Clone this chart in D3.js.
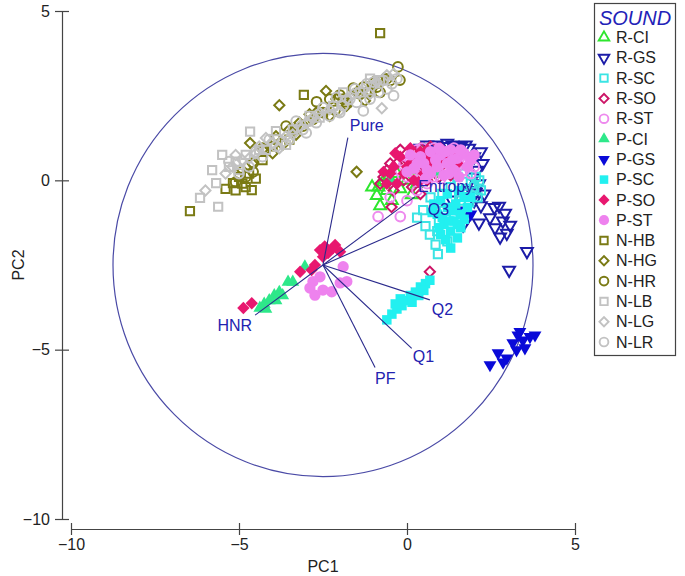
<!DOCTYPE html>
<html><head><meta charset="utf-8">
<script src="https://cdn.jsdelivr.net/npm/d3@7"></script>
<style>body{margin:0;background:#fff}svg{display:block;font-family:"Liberation Sans",Arial,sans-serif}</style>
</head><body><svg id="c" width="685" height="576"></svg>
<script>
// ---------- data ----------
const xTicks = [-10, -5, 0, 5];
const yTicks = [5, 0, -5, -10];
const xTitle = "PC1", yTitle = "PC2", legendTitle = "SOUND";
const seriesNames = ["R-CI","R-GS","R-SC","R-SO","R-ST","P-CI","P-GS","P-SC","P-SO","P-ST","N-HB","N-HG","N-HR","N-LB","N-LG","N-LR"];

const rCI = [[-1.04,-0.2],[-0.8,-0.75],[-0.9,-0.45],[-0.71,-0.05],[-0.55,0.1],[0.14,-0.43],[-0.3,0.2],[0.1,0.3],[0.6,0.5],[0.9,0.2],[-0.6,-0.3],[0.3,-0.1],[1.2,0.6],[-0.2,-0.25],
  [-0.45,-0.6],[-0.85,-0.2],[0.0,0.0],[0.5,0.9]];
const rGS = [[0.6,1.05],[0.85,1.05],[1.1,1.0],[1.35,1.05],[1.6,1.0],[1.85,0.95],[0.4,0.95],[2.0,0.7],[2.1,0.3],[2.15,-0.1],[1.9,-0.3],[2.0,-0.6],[1.7,-0.9],
  [2.74,-0.76],[2.14,-1.26],[2.47,-1.1],[2.62,-1.4],[2.77,-1.67],[2.97,-1.56],[3.07,-1.32],[2.92,-0.97],[3.57,-2.1],[3.04,-2.65],[2.85,-1.2],[2.6,-0.8],
  [1.67,-1.32],[1.33,-0.58],[1.8,-1.1],[2.2,0.85],[2.25,0.5],[2.3,-0.4],[2.2,-0.75],[1.95,0.1],[0.7,0.9],[1.2,1.1],[1.75,1.05],[2.05,-0.35],[1.5,0.95]];
const rSC = [[0.48,-0.88],[0.92,-2.18],[0.68,-1.6],[0.9,-1.5],[1.3,-0.2],[1.5,0.1],[1.8,-0.4],[2.0,-0.2],[1.6,-0.6],[2.1,-0.5],[1.1,-0.9],[0.3,-1.1],[1.2,-1.8],[0.95,-1.2],[1.7,0.2],[1.4,-1.0],[2.15,0.0],[0.7,-0.5],
  [1.9,-0.1],[2.05,0.1],[1.75,-0.25],[1.55,-0.45],[1.85,-0.65],[0.55,-1.35],[0.85,-1.9],[1.05,-0.4],[2.2,-0.3]];
const rSO = [[-0.46,-0.79],[0.68,-2.7],[-0.6,0.3],[-0.3,0.5],[0.0,0.6],[0.2,0.8],[-0.4,-0.3],[0.5,0.3],[0.8,0.7],[-0.7,0.1],[0.4,-0.4],[1.0,0.4],[-0.1,0.0],
  [-0.2,0.9],[0.4,0.95],[0.7,1.0],[1.2,0.8],[1.5,0.85],[0.3,0.35],[0.6,0.0],[-0.5,0.5],[-0.8,-0.1],[0.15,-0.2],[1.3,0.15],[1.7,0.6],[0.95,0.1]];
const rST = [[-0.86,-1.07],[-0.2,-1.07],[0.3,0.9],[0.6,0.8],[1.0,0.9],[1.3,0.7],[1.6,0.75],[0.9,0.5],[1.2,0.3],[0.5,0.4],[-0.2,0.3],[0.1,0.6],[1.5,0.4],[0.8,0.1],[-0.5,-0.5],[1.8,0.5],[0.0,-0.6],[0.4,0.1],
  [0.2,0.2],[0.5,0.75],[0.8,0.95],[1.1,0.65],[1.4,0.95],[1.7,0.3],[1.9,0.2],[0.0,0.1],[-0.4,0.05],[0.3,-0.3],[0.6,-0.1],[1.0,0.05],[1.3,0.5],[0.7,0.6],[-0.1,0.45],[1.6,0.55],[2.0,0.4],[0.45,0.95]];
const pCI = [[-4.38,-3.77],[-4.25,-3.65],[-4.1,-3.55],[-3.95,-3.4],[-3.8,-3.3],[-3.7,-3.4],[-3.54,-3.0],[-3.4,-3.0],[-3.04,-2.55],[-4.2,-3.8],[-3.9,-3.55],[0.88,0.25],[0.6,0.6],[-0.5,0.0]];
const pGS = [[3.3,-4.57],[3.81,-4.57],[3.45,-4.72],[3.15,-4.8],[3.51,-4.95],[2.71,-5.1],[2.97,-5.25],[2.86,-5.37],[2.47,-5.45],[3.26,-5.01],[3.66,-4.62],[3.36,-4.47],[1.5,-0.9],[1.9,-1.0]];
const pSC = [[-0.6,-4.12],[-0.45,-3.95],[-0.3,-3.8],[-0.15,-3.7],[0.0,-3.55],[0.1,-3.4],[0.25,-3.3],[0.4,-3.15],[0.55,-3.05],[0.68,-2.95],[-0.2,-3.5],[0.15,-3.6],[0.35,-3.4],[0.5,-3.25],[-0.35,-3.65],
  [1.0,-0.6],[1.2,-0.8],[1.4,-1.2],[1.6,-1.0],[1.3,-1.5],[1.1,-1.3],[1.5,-1.7],[1.7,-0.5],[0.9,-1.0],[1.2,-0.4],[1.45,-0.7],[1.0,-1.6],[1.3,-2.0],[1.8,-0.8],[0.8,-0.7],[1.6,-1.4],
  [1.05,-1.1],[1.25,-1.2],[1.5,-1.3],[1.35,-0.9],[0.95,-1.4],[1.15,-1.75],[1.7,-1.15],[1.9,-0.5],[1.55,-0.3],[0.75,-0.95]];
const pSO = [[-2.59,-2.06],[-2.14,-1.91],[-2.35,-2.15],[-1.99,-2.11],[-2.5,-2.26],[-3.18,-2.7],[-2.84,-2.65],[-2.74,-2.5],[-4.87,-3.77],[-4.62,-3.63],[-2.2,-2.0],[-2.45,-1.95],
  [-0.5,0.2],[-0.3,-0.1],[0.0,0.4],[0.3,0.6],[0.6,0.9],[0.2,0.0],[-0.6,-0.1],[0.5,0.2],[0.9,0.8],[-0.2,0.7],[0.1,0.95],[1.1,0.6],[0.7,0.45],
  [-0.4,0.4],[-0.1,0.2],[0.15,0.55],[0.4,0.85],[0.8,0.6],[1.0,0.95],[1.3,0.75],[0.35,-0.05],[-0.7,0.25],[-0.35,0.8],[0.6,0.7],[1.5,0.5]];
const pST = [[-2.59,-2.85],[-2.8,-2.99],[-2.5,-3.24],[-2.89,-3.18],[-1.99,-3.03],[-1.79,-2.99],[-1.9,-2.55],[-2.24,-3.29],[-2.74,-3.39],
  [0.4,0.7],[0.7,0.85],[1.0,0.75],[1.3,0.9],[1.5,0.65],[1.7,0.8],[0.9,0.4],[1.2,0.5],[0.5,0.5],[1.4,0.3],[0.2,0.35],[1.1,0.15],[1.9,0.6],[0.7,0.2],
  [0.3,0.5],[0.6,0.3],[0.85,0.6],[1.15,0.85],[1.35,0.6],[1.6,0.9],[1.8,0.4],[0.1,0.75],[0.55,0.05],[0.95,0.95],[1.25,0.2],[2.0,0.75],[0.0,0.25],[1.55,0.1]];
const nHB = [[-0.8,4.35],[-3.07,2.52],[-4.62,-0.29],[-5.18,-0.08],[-6.46,-0.91],[-4.9,-0.1],[-4.7,0.2],[-3.5,1.2],[-2.5,2.0],[-1.8,2.3],[-1.2,2.6],[-4.3,0.6],[-5.0,0.1],
  [-4.5,0.05],[-5.4,-0.25],[-4.0,1.0],[-5.1,-0.3],[-4.8,-0.2]];
const nHG = [[-3.8,2.22],[-2.41,2.64],[-1.5,0.25],[-4.67,1.1],[-4.3,0.9],[-3.9,1.3],[-3.2,1.7],[-2.7,2.0],[-2.1,2.4],[-1.5,2.6],[-1.0,2.9],[-0.7,3.0],[-4.6,0.5],[-3.5,1.5],
  [-4.0,0.8],[-3.7,1.05],[-3.3,1.35],[-2.9,1.95],[-2.3,1.9],[-1.8,2.2],[-1.25,2.35],[-4.9,0.3]];
const nHR = [[-0.27,3.35],[-0.21,2.96],[-1.1,2.66],[-1.6,2.72],[-2.0,2.52],[-2.14,2.07],[-2.69,2.32],[-0.5,2.95],[-1.3,2.75],[-2.5,2.0],[-2.8,1.8],[-0.8,2.6],[-4.58,0.51],[-4.58,0.25],[-3.3,1.5],[-1.9,2.4],
  [-4.3,0.95],[-3.9,1.2],[-3.6,1.6],[-3.1,1.6],[-2.3,2.4],[-1.4,2.55],[-0.9,2.75],[-0.6,3.0],[-4.8,0.1],[-5.1,-0.05]];
const nLB = [[-5.5,0.75],[-5.68,-0.08],[-5.62,-0.78],[-4.67,1.44],[-0.8,2.96],[-6.16,-0.52],[-5.3,0.4],[-5.0,0.3],[-4.2,0.9],[-3.4,1.5],[-2.9,1.9],[-1.4,2.6],
  [-5.1,0.55],[-4.8,0.75],[-4.4,0.9],[-3.9,1.45],[-3.6,1.05],[-2.6,1.85],[-2.2,2.2],[-1.9,2.6],[-1.1,3.0],[-5.8,0.3]];
const nLG = [[-5.2,0.4],[-0.75,2.13],[-4.9,0.6],[-4.5,0.8],[-4.0,1.1],[-3.6,1.3],[-3.2,1.6],[-2.8,1.85],[-2.3,2.1],[-1.8,2.4],[-1.3,2.7],[-0.9,2.9],[-0.6,3.1],[-5.4,0.2],[-6.0,-0.3],
  [-5.1,0.75],[-4.7,0.65],[-4.2,1.25],[-3.8,0.95],[-3.4,1.35],[-3.0,1.7],[-2.6,2.0],[-2.0,2.05],[-1.6,2.55],[-1.1,2.55],[-0.4,3.15],[-4.4,1.0]];
const nLR = [[-1.1,2.4],[-0.6,2.7],[-1.5,2.3],[-1.9,2.2],[-2.3,1.9],[-2.7,1.7],[-3.1,1.5],[-3.5,1.2],[-3.9,1.0],[-4.3,0.7],[-4.7,0.4],[-5.0,0.2],[-1.0,2.9],[-0.4,2.5],[-2.0,2.0],[-0.85,2.6],[-1.3,2.05],
  [-4.5,0.85],[-4.1,1.2],[-3.7,1.15],[-3.3,1.75],[-2.9,1.75],[-2.5,2.15],[-2.1,2.45],[-1.7,2.4],[-1.2,2.85],[-0.7,2.95],[-0.3,3.0],[-5.3,0.55],[-3.0,1.4],[-1.55,2.7],[-0.45,2.85]];
const seriesValues = [rCI,rGS,rSC,rSO,rST,pCI,pGS,pSC,pSO,pST,nHB,nHG,nHR,nLB,nLG,nLR];

const vectorOrigin = [-2.5, -2.5];
const vectorNames = ["Pure","Entropy","Q3","HNR","Q2","Q1","PF"];
const vectorEnds = [[-1.76,1.26],[0.24,-0.48],[0.44,-1.22],[-4.52,-3.98],[0.68,-3.53],[0.14,-4.96],[-0.95,-5.53]];
const circleRadius = 6.25;

// ---------- styles ----------
const shapes = ["tri","inv","sq","dia","cir","tri","inv","sq","dia","cir","sq","dia","cir","sq","dia","cir"];
const filled = [0,0,0,0,0,1,1,1,1,1,0,0,0,0,0,0];
const colors = ["#2ee62e","#1c1ca8","#3ae4e4","#cc1466","#ee8aee","#2ee88a","#0a0ad8","#22f0f0","#e8176f","#ee82ee","#7a7a14","#7a7a14","#7a7a14","#c2c2c2","#c2c2c2","#c2c2c2"];
const labelOffsets = {Pure:[2,-12,"start"],Entropy:[3,-10,"start"],Q3:[6,-12,"start"],HNR:[-3,10,"end"],Q2:[2,10,"start"],Q1:[1,8,"start"],PF:[0,11,"start"]};

// ---------- chart ----------
const svg = d3.select("#c");
const x = d3.scaleLinear([-10,5],[71,575]);
const y = d3.scaleLinear([-10,5],[519,11]);

function symPath(shape, fill, scale){
  const k = scale || 1;
  let type, size, rot = 0;
  if (shape==="tri"){type=d3.symbolTriangle; size=fill?72:60;}
  else if (shape==="inv"){type=d3.symbolTriangle; size=fill?72:60; rot=180;}
  else if (shape==="sq"){type=d3.symbolSquare; size=fill?90:68;}
  else if (shape==="dia"){type=d3.symbolSquare; size=fill?76:52; rot=45;}
  else {type=d3.symbolCircle; size=fill?100:74;}
  return {d: d3.symbol(type, size*k*k)(), rot};
}

// axes
const ya = svg.append("g").attr("transform","translate(62,0)")
  .call(d3.axisLeft(y).tickValues(yTicks).tickSize(7).tickSizeOuter(0).tickPadding(5));
ya.selectAll(".tick line").attr("x1",-7).attr("x2",7);
const xa = svg.append("g").attr("transform","translate(0,529)")
  .call(d3.axisBottom(x).tickValues(xTicks).tickSize(6).tickSizeOuter(0).tickPadding(4));
xa.selectAll(".tick line").attr("y1",-6).attr("y2",6);
[ya,xa].forEach(g=>{
  g.select(".domain").attr("stroke","#444").attr("stroke-width",1.2);
  g.selectAll(".tick line").attr("stroke","#444").attr("stroke-width",1.2);
  g.selectAll(".tick text").attr("font-size",16).attr("fill","#222").attr("font-family","Liberation Sans, Arial, sans-serif");
});
xa.selectAll(".tick text").attr("y",10);

svg.append("text").attr("x",323).attr("y",572).attr("text-anchor","middle").attr("font-size",16).attr("fill","#222").text(xTitle);
svg.append("text").attr("transform","translate(24,265) rotate(-90)").attr("text-anchor","middle").attr("font-size",16).attr("fill","#222").text(yTitle);

// circle
svg.append("ellipse")
  .attr("cx", x(vectorOrigin[0])).attr("cy", y(vectorOrigin[1]))
  .attr("rx", x(circleRadius)-x(0)).attr("ry", y(0)-y(circleRadius))
  .attr("fill","none").attr("stroke","#4a4aa6").attr("stroke-width",1.2);

// points
const pg = svg.append("g");
seriesValues.forEach((pts,i)=>{
  const s = symPath(shapes[i], filled[i]);
  pg.append("g").selectAll("path").data(pts).join("path")
    .attr("d", s.d)
    .attr("transform", d=>`translate(${x(d[0])},${y(d[1])}) rotate(${s.rot})`)
    .attr("fill", filled[i]?colors[i]:"none")
    .attr("stroke", filled[i]?"none":colors[i])
    .attr("stroke-width", 2);
});

// vectors
const vg = svg.append("g");
vectorNames.forEach((n,i)=>{
  const e = vectorEnds[i];
  vg.append("line").attr("x1",x(vectorOrigin[0])).attr("y1",y(vectorOrigin[1]))
    .attr("x2",x(e[0])).attr("y2",y(e[1])).attr("stroke","#2a2a8c").attr("stroke-width",1.1);
  const o = labelOffsets[n];
  vg.append("text").attr("x",x(e[0])+o[0]).attr("y",y(e[1])+o[1]).attr("dy","0.35em")
    .attr("text-anchor",o[2]).attr("font-size",16).attr("fill","#2222b0").text(n);
});

// legend
const lg = svg.append("g");
lg.append("rect").attr("x",594.5).attr("y",3.5).attr("width",81).attr("height",352)
  .attr("fill","#fff").attr("stroke","#444").attr("stroke-width",1.2);
lg.append("text").attr("x",635).attr("y",18).attr("dy","0.35em").attr("text-anchor","middle")
  .attr("font-size",20).attr("font-style","italic").attr("fill","#2222b8").text(legendTitle);
seriesNames.forEach((n,i)=>{
  const ly = 37.5 + i*20.3;
  const s = symPath(shapes[i], filled[i], 0.9);
  lg.append("path").attr("d",s.d).attr("transform",`translate(604,${ly}) rotate(${s.rot})`)
    .attr("fill", filled[i]?colors[i]:"none").attr("stroke", filled[i]?"none":colors[i]).attr("stroke-width",1.9);
  lg.append("text").attr("x",616).attr("y",ly).attr("dy","0.35em").attr("font-size",16).attr("fill","#222").text(n);
});
</script></body></html>
